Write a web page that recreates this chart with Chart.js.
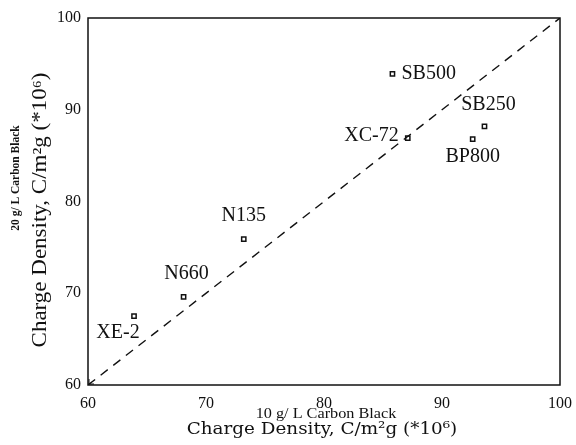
<!DOCTYPE html>
<html>
<head>
<meta charset="utf-8">
<script src="https://cdn.jsdelivr.net/npm/chart.js@4/dist/chart.umd.min.js"></script>
<style>
  html, body { margin: 0; padding: 0; background: #fff; }
  #wrap { width: 576px; height: 445px; }
</style>
</head>
<body>
<div id="wrap"><canvas id="c" width="576" height="445"></canvas></div>
<script>
// Carbon black grades and their charge densities (C/m²g, ×10⁶)
const grades = ["XE-2", "N660", "N135", "SB500", "XC-72", "SB250", "BP800"];
const density10 = [63.9, 68.1, 73.2, 85.8, 87.1, 93.6, 92.6]; // 10 g/L carbon black
const density20 = [67.5, 69.6, 75.9, 93.9, 86.9, 88.2, 86.8]; // 20 g/L carbon black
const tickValues = [60, 70, 80, 90, 100];

// where each grade's name sits relative to its marker (px)
const labelOffsets = {
  "XE-2":  { dx: -16, dy: 17, align: "center" },
  "N660":  { dx: 3,   dy: -23, align: "center" },
  "N135":  { dx: 0,   dy: -23, align: "center" },
  "SB500": { dx: 9,   dy: 0,  align: "left" },
  "XC-72": { dx: -9,  dy: -2, align: "right" },
  "SB250": { dx: 4,   dy: -22, align: "center" },
  "BP800": { dx: 0,   dy: 18, align: "center" }
};

const SERIF = "'Liberation Serif', 'DejaVu Serif', serif";
const WIDE_SERIF = "'DejaVu Serif', serif";

const points = grades.map((g, i) => ({ x: density10[i], y: density20[i], name: g }));
const lo = tickValues[0], hi = tickValues[tickValues.length - 1];

// text drawn centred at (cx, cy), optionally rotated and stretched horizontally
function stretchedText(ctx, text, cx, cy, font, stretch, angle) {
  ctx.save();
  ctx.translate(cx, cy);
  if (angle) ctx.rotate(angle);
  ctx.scale(stretch, 1);
  ctx.font = font;
  ctx.textAlign = "center";
  ctx.textBaseline = "middle";
  ctx.fillText(text, 0, 0);
  ctx.restore();
}

const decor = {
  id: "decor",
  afterDatasetsDraw(chart) {
    const { ctx, chartArea: a, scales: { x, y } } = chart;
    ctx.save();
    // frame
    ctx.strokeStyle = "#111";
    ctx.lineWidth = 1.5;
    ctx.strokeRect(a.left, a.top, a.right - a.left, a.bottom - a.top);
    // small arrowhead at the lower end of the parity line
    const px = x.getPixelForValue(lo), py = y.getPixelForValue(lo);
    ctx.lineWidth = 1;
    ctx.beginPath();
    ctx.moveTo(px + 6, py - 1); ctx.lineTo(px + 1, py - 1); ctx.lineTo(px + 1, py - 6);
    ctx.stroke();
    // grade names
    ctx.fillStyle = "#111";
    ctx.font = "20px " + SERIF;
    ctx.textBaseline = "middle";
    points.forEach(p => {
      const o = labelOffsets[p.name];
      ctx.textAlign = o.align;
      ctx.fillText(p.name, x.getPixelForValue(p.x) + o.dx, y.getPixelForValue(p.y) + o.dy);
    });
    // axis titles
    stretchedText(ctx, "10 g/ L Carbon Black", 326, 414, "14px " + SERIF, 1.16, 0);
    stretchedText(ctx, "Charge Density, C/m\u00B2g (*10\u2076)", 322, 430, "17px " + WIDE_SERIF, 1.08, 0);
    stretchedText(ctx, "20 g/ L Carbon Black", 16, 178, "bold 11.5px " + SERIF, 1, -Math.PI / 2);
    stretchedText(ctx, "Charge Density, C/m\u00B2g (*10\u2076)", 41, 210, "20px " + SERIF, 1.15, -Math.PI / 2);
    ctx.restore();
  }
};

new Chart(document.getElementById("c"), {
  type: "scatter",
  data: {
    datasets: [
      {
        label: "parity",
        data: [{ x: lo, y: lo }, { x: hi, y: hi }],
        showLine: true,
        borderColor: "#111",
        borderWidth: 1.4,
        borderDash: [9, 7],
        pointRadius: 0,
        fill: false
      },
      {
        label: "grades",
        data: points,
        pointStyle: "rect",
        pointRadius: 3,
        borderColor: "#111",
        borderWidth: 1.5,
        backgroundColor: "#fff"
      }
    ]
  },
  options: {
    responsive: false,
    animation: false,
    layout: { padding: { top: 18, right: 16, left: 0, bottom: 0 } },
    plugins: { legend: { display: false }, tooltip: { enabled: false } },
    scales: {
      x: {
        type: "linear",
        min: lo, max: hi,
        afterBuildTicks(s) { s.ticks = tickValues.map(v => ({ value: v })); },
        afterFit(s) { s.height = 60; s.paddingLeft = 0; s.paddingRight = 0; },
        grid: { display: false, drawTicks: false },
        border: { display: false },
        ticks: { color: "#111", padding: 9, font: { family: SERIF, size: 16 } }
      },
      y: {
        type: "linear",
        min: lo, max: hi,
        afterBuildTicks(s) { s.ticks = tickValues.map(v => ({ value: v })); },
        afterFit(s) { s.width = 88; s.paddingTop = 0; s.paddingBottom = 0; },
        grid: { display: false, drawTicks: false },
        border: { display: false },
        ticks: { color: "#111", padding: 7, font: { family: SERIF, size: 16 } }
      }
    }
  },
  plugins: [decor]
});
</script>
</body>
</html>
